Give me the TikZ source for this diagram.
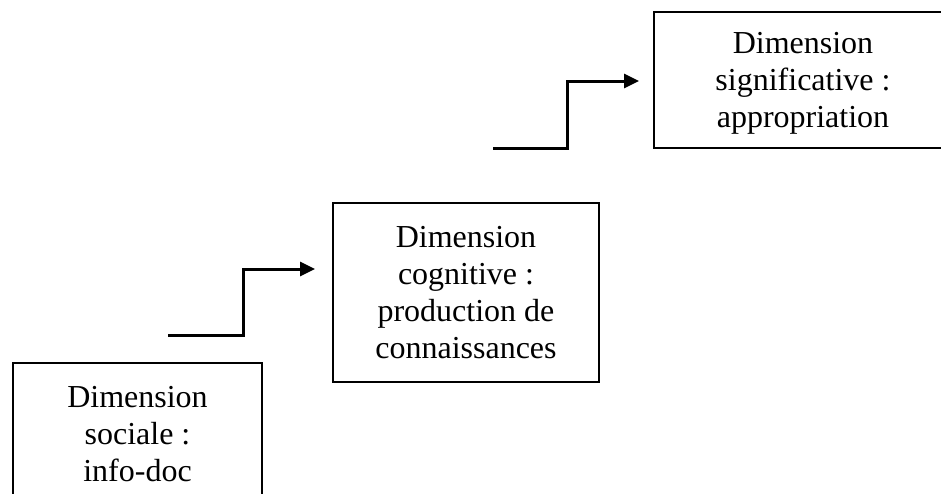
\documentclass[tikz,border=0pt]{standalone}
\usepackage{fontspec}
\setmainfont{Liberation Serif}
\usetikzlibrary{arrows.meta}
\tikzset{
  dimbox/.style={draw, line width=1.5pt, inner sep=0pt, align=center,
    font=\fontsize{24}{27.75}\selectfont},
  stepline/.style={line width=2.25pt, -{Triangle[length=11.25pt,width=10.5pt]}}
}
\begin{document}
\begin{tikzpicture}[x=0.75pt,y=0.75pt,yscale=-1,xscale=1]
%set diagram left start at 0, and has height of 493
\clip (0,0) rectangle (941,493);

%Shape: Rectangle [id:sociale]
\node[dimbox, minimum width=186.75pt, minimum height=106.5pt] (sociale) at (137.5,434)
  {Dimension\\ sociale~:\\ info-doc};
%Shape: Rectangle [id:cognitive]
\node[dimbox, minimum width=199.5pt, minimum height=134.25pt] (cognitive) at (466,292.5)
  {Dimension\\ cognitive~:\\ production de\\ connaissances};
%Shape: Rectangle [id:significative]
\node[dimbox, text depth=0pt, minimum width=223.5pt, minimum height=102pt] (significative) at (803,80)
  {Dimension\\ significative~:\\ appropriation};

%Straight Lines [id:step1]
\coordinate (s1) at (168,335);
\coordinate (e1) at (315,269);
\draw[stepline] (s1) -- ++(75,0) |- (e1);
%Straight Lines [id:step2]
\coordinate (s2) at (493,148);
\coordinate (e2) at (639,81);
\draw[stepline] (s2) -- ++(74,0) |- (e2);

\end{tikzpicture}
\end{document}
